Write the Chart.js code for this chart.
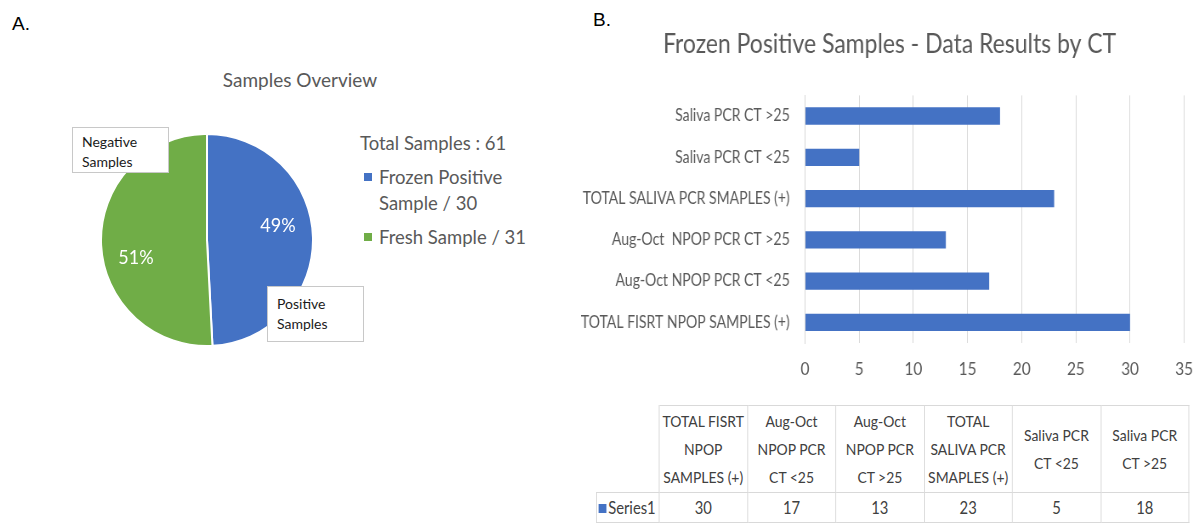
<!DOCTYPE html>
<html>
<head>
<meta charset="utf-8">
<script src="https://cdn.jsdelivr.net/npm/chart.js@4/dist/chart.umd.min.js"></script>
<style>
body { margin: 0; background: #fff; width: 1197px; height: 526px; position: relative; overflow: hidden;
       font-family: Lato, sans-serif; color: #404040; }
.abs { position: absolute; }
.panel { font-family: "Liberation Sans", Arial, sans-serif; font-size: 19px; color: #000; }
#pieTitle { left: 200px; top: 68px; width: 200px; text-align: center; font-size: 19px; color: #595959; }
.callout { background: #fff; border: 1px solid #c8c8c8; font-size: 14px; color: #1a1a1a; line-height: 20px;
           padding: 4px 9px; box-sizing: border-box; width: 97px; }
#pieLegend { left: 360px; top: 130px; font-size: 18.5px; color: #595959; line-height: 26px; }
#pieLegend .item { position: relative; padding-left: 19px; width: 160px; margin-top: 8px; }
#pieLegend .sw { position: absolute; left: 4px; top: 9px; width: 8px; height: 8px; }
#barWrap { left: 570px; top: 20px; width: 748px; height: 370px; transform: scaleX(0.85); transform-origin: 0 0; }
#tableWrap { left: 596px; top: 405px; transform: scaleX(0.87); transform-origin: 0 0; }
#dataTable { border-collapse: collapse; table-layout: fixed; width: 681px; font-size: 16px; color: #404040; }
#dataTable td { border: 1px solid #d9d9d9; text-align: center; padding: 0; white-space: nowrap; }
#dataTable tr.head td { line-height: 28px; height: 86px; }
#dataTable tr.vals td { height: 29px; font-size: 17px; }
#dataTable td.blank { border-top: none; border-left: none; }
#dataTable td.series { text-align: left; padding-left: 2px; }
#dataTable .sw { display: inline-block; width: 9px; height: 9px; background: #4472C4; margin: 0 2px 1px 0; }
</style>
</head>
<body>
<div class="abs panel" style="left:12px;top:13px">A.</div>
<div class="abs panel" style="left:593px;top:9px">B.</div>

<div id="pieTitle" class="abs">Samples Overview</div>
<div class="abs" style="left:100px;top:133px;width:214px;height:214px">
  <canvas id="pieChart" width="214" height="214"></canvas>
</div>
<div id="calloutNeg" class="abs callout" style="left:72px;top:127px;height:46px"></div>
<div id="calloutPos" class="abs callout" style="left:267px;top:286px;height:56px;padding-top:7px"></div>
<div id="pieLegend" class="abs"></div>

<div id="barWrap" class="abs">
  <canvas id="barChart" width="748" height="370"></canvas>
</div>
<div id="tableWrap" class="abs"><table id="dataTable"></table></div>

<script>
// panel A
var pieLabels = ['Frozen Positive Sample', 'Fresh Sample'];
var pieValues = [30, 31];
var pieColors = ['#4472C4', '#70AD47'];
var calloutLabels = ['Positive Samples', 'Negative Samples'];
var pieTotalText = 'Total Samples : ';

// panel B
var barCats = ['TOTAL FISRT NPOP SAMPLES (+)', 'Aug-Oct NPOP PCR CT <25', 'Aug-Oct  NPOP PCR CT >25',
               'TOTAL SALIVA PCR SMAPLES (+)', 'Saliva PCR CT <25', 'Saliva PCR CT >25'];
var barValues = [30, 17, 13, 23, 5, 18];
var tableHeads = [['TOTAL FISRT', 'NPOP', 'SAMPLES (+)'], ['Aug-Oct', 'NPOP PCR', 'CT <25'],
                  ['Aug-Oct', 'NPOP PCR', 'CT >25'], ['TOTAL', 'SALIVA PCR', 'SMAPLES (+)'],
                  ['Saliva PCR', 'CT <25'], ['Saliva PCR', 'CT >25']];
var seriesName = 'Series1';
var xMax = 35, xStep = 5;

var F = 'Lato, sans-serif';
var pctShift = [-13, 16];

var total = pieValues.reduce(function (a, b) { return a + b; }, 0);

function esc(s) {
    return s.replace(/&/g, '&amp;').replace(/</g, '&lt;').replace(/>/g, '&gt;');
}

// percent labels inside the slices
var pctLabels = {
    id: 'pctLabels',
    afterDatasetsDraw: function (chart) {
        var ctx = chart.ctx;
        var meta = chart.getDatasetMeta(0);
        meta.data.forEach(function (arc, i) {
            var mid = (arc.startAngle + arc.endAngle) / 2;
            var r = arc.outerRadius * 0.67;
            ctx.save();
            ctx.translate(arc.x + Math.cos(mid) * r, arc.y + Math.sin(mid) * r + pctShift[i]);
            ctx.scale(0.9, 1);
            ctx.fillStyle = '#fff';
            ctx.font = '20px ' + F;
            ctx.textAlign = 'center';
            ctx.textBaseline = 'middle';
            ctx.fillText(Math.round(pieValues[i] / total * 100) + '%', 0, 0);
            ctx.restore();
        });
    }
};

new Chart(document.getElementById('pieChart'), {
    type: 'pie',
    data: {
        labels: pieLabels,
        datasets: [{
            data: pieValues,
            backgroundColor: pieColors,
            borderColor: '#fff',
            borderWidth: 2
        }]
    },
    options: {
        responsive: false,
        animation: false,
        plugins: { legend: { display: false }, tooltip: { enabled: false } }
    },
    plugins: [pctLabels]
});

// callouts and legend for the pie
document.getElementById('calloutPos').innerHTML = calloutLabels[0].replace(' ', '<br>');
document.getElementById('calloutNeg').innerHTML = calloutLabels[1].replace(' ', '<br>');

var leg = '<div>' + pieTotalText + total + '</div>';
for (var i in pieLabels) {
    leg += '<div class="item"><span class="sw" style="background:' + pieColors[i] + '"></span>' +
        pieLabels[i] + ' / ' + pieValues[i] + '</div>';
}
document.getElementById('pieLegend').innerHTML = leg;

new Chart(document.getElementById('barChart'), {
    type: 'bar',
    data: {
        labels: barCats,
        datasets: [{
            label: seriesName,
            data: barValues,
            backgroundColor: '#4472C4',
            categoryPercentage: 1,
            barPercentage: 0.42
        }]
    },
    options: {
        indexAxis: 'y',
        responsive: false,
        animation: false,
        layout: { padding: { left: 10, right: 6 } },
        plugins: {
            legend: { display: false },
            tooltip: { enabled: false },
            title: {
                display: true,
                text: 'Frozen Positive Samples - Data Results by CT',
                color: '#595959',
                font: { family: F, size: 27, weight: 'normal' },
                padding: { top: 8, bottom: 35 }
            }
        },
        scales: {
            x: {
                min: 0, max: xMax,
                ticks: { stepSize: xStep, color: '#595959', font: { family: F, size: 18 }, padding: 15 },
                grid: { color: '#d9d9d9', drawTicks: false },
                border: { display: false },
                afterFit: function (s) { s.height = 47; }
            },
            y: {
                reverse: true,
                ticks: { color: '#595959', font: { family: F, size: 16.5 }, padding: 10 },
                grid: { display: false },
                border: { display: true, color: '#d9d9d9' },
                afterFit: function (s) { s.width = 266.5; }
            }
        }
    }
});

// data table under the bar chart
var cols = '<colgroup><col style="width:72px">';
var head = '<tr class="head"><td class="blank"></td>';
for (var j in tableHeads) {
    cols += '<col style="width:101.5px">';
    head += '<td>' + tableHeads[j].map(esc).join('<br>') + '</td>';
}
cols += '</colgroup>';
head += '</tr>';
var row = '<tr class="vals"><td class="series"><span class="sw"></span>' + seriesName + '</td>';
for (var k in barValues) {
    row += '<td>' + barValues[k] + '</td>';
}
row += '</tr>';
document.getElementById('dataTable').innerHTML = cols + head + row;
</script>
</body>
</html>
